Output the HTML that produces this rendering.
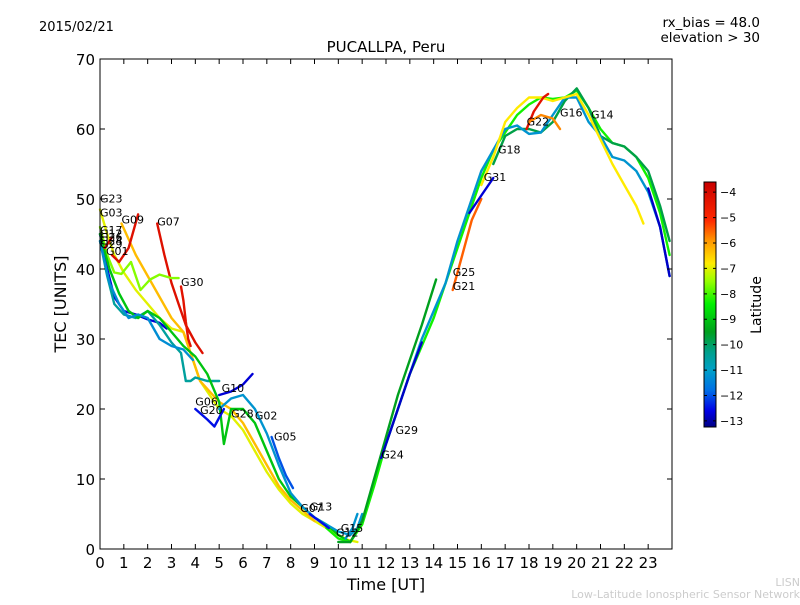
<!DOCTYPE html>
<html><head><meta charset="utf-8"><style>
body{margin:0;background:#fff;}
svg text{font-family:"DejaVu Sans","Liberation Sans",sans-serif;}
</style></head><body>
<svg id="c" width="800" height="600" xmlns="http://www.w3.org/2000/svg">
<rect width="800" height="600" fill="#fff"/>
<text x="39" y="31" font-size="13">2015/02/21</text>
<text x="760" y="27" font-size="13.5" text-anchor="end">rx_bias = 48.0</text>
<text x="760" y="42" font-size="13.5" text-anchor="end">elevation &gt; 30</text>
<text x="386" y="52" font-size="15" text-anchor="middle">PUCALLPA, Peru</text>
<g id="plot"></g>
<rect x="100" y="59" width="572" height="490" fill="none" stroke="#000" stroke-width="1"/>
<g id="axes"></g>
<text x="386" y="590" font-size="16" text-anchor="middle">Time [UT]</text>
<text transform="translate(66,304) rotate(-90)" font-size="16" text-anchor="middle">TEC [UNITS]</text>
<defs><linearGradient id="jet" x1="0" y1="1" x2="0" y2="0"></linearGradient></defs>
<rect x="704" y="182" width="12" height="245" fill="url(#jet)" stroke="#000" stroke-width="1"/>
<g id="cbar"></g>
<text transform="translate(761,305) rotate(-90)" font-size="14" text-anchor="middle">Latitude</text>
<text x="800" y="586" font-size="11" fill="#ccc" text-anchor="end">LISN</text>
<text x="800" y="598" font-size="11" fill="#ccc" text-anchor="end">Low-Latitude Ionospheric Sensor Network</text>
</svg>
<script>
const xTicks=[0,1,2,3,4,5,6,7,8,9,10,11,12,13,14,15,16,17,18,19,20,21,22,23];
const yTicks=[0,10,20,30,40,50,60,70];
const cbTicks=[-4,-5,-6,-7,-8,-9,-10,-11,-12,-13];
const names=["G03","G09b","G07","G09","G30a","B1","T1","G1","C1","G10","G20","G05","G02","D1","D2","D3","D4","G29","G21","G31","G22","G16","G24","E1","G13","G15","G30","G01"];
const lats=[-7,-6.3,-4.2,-4.2,-7.6,-12.7,-10.5,-9,-11.3,-12.7,-12.5,-12,-11.2,-8.3,-9.5,-9.8,-11.2,-6.8,-5.5,-12.7,-4.3,-5.8,-12.8,-12.8,-12.5,-11.2,-4.3,-4];
const times=[
[0,0.3,0.6,1,1.5,2,2.5,3,3.5,3.8,4.2,4.6,5,5.5,6,6.5,7,7.5,8,8.5,9,9.5,10,10.4,10.8],
[0.9,1.5,2,2.5,3,3.5,3.8,4.2,5,5.5,6,6.5,7,7.5,8,8.5,9],
[2.4,2.7,3,3.3,3.6,4,4.3],
[0.5,0.8,1.2,1.6],
[0,0.3,0.6,0.9,1.3,1.7,2.1,2.5,3,3.3],
[0,0.3,0.6,1,1.5,2,2.5,2.8],
[0,0.3,0.6,1,1.5,2,2.5,3,3.4,3.6,3.8,4,4.5,5],
[0,0.4,0.8,1.2,1.6,2,2.5,3,3.5,4,4.5,5,5.2,5.5,6,6.5,7,7.5,8,8.5,9,9.5,10,10.5],
[0,0.4,0.8,1.2,1.6,2,2.5,3,3.5,3.9],
[5,5.5,6,6.4],
[4,4.5,4.8,5.2],
[7.2,7.5,7.8,8.1],
[5,5.5,6,6.5,7,7.5,8,8.5,9,9.5,10,10.5,10.8,11],
[9.5,10,10.5,11,11.5,12,12.5,13,13.5,14,14.5,15,15.5,16,16.5,17,17.5,18,18.5,19,19.5,20,20.5,21,21.5,22,22.5,23,23.5,23.9],
[10,10.5,11,11.5,12,12.5,13,13.5,14.1],
[16.5,17,17.5,18,18.5,19,19.5,20,20.5,21,21.5,22,22.5,23,23.5,23.9],
[12,12.5,13,13.5,14,14.5,15,15.5,16,16.5,17,17.5,18,18.5,19,19.5,20,20.5,21,21.5,22,22.5,23,23.5,23.9],
[16,16.5,17,17.5,18,18.5,19,19.5,20,20.5,21,21.5,22,22.5,22.8],
[14.8,15.2,15.6,16],
[15.5,16,16.5],
[17.9,18.2,18.6,18.8],
[18,18.5,19,19.3],
[11.8,12.2,12.6,13,13.5],
[23,23.5,23.9],
[8.8,9.2,9.6],
[10.3,10.6,10.8],
[3.4,3.5,3.6,3.7,3.8],
[0.2,0.5]];
const tecs=[
[48.5,45,42,39.5,37,35,33,31.5,31,28,24,22,20,19,17,14,11,8.5,6.5,5,4,3,2,1.3,1],
[46.5,42,39,36,33,31,28,24,21,20,18,15,12,9,7,5.5,4],
[46.5,42,38,35,32,29.5,28],
[42,41,43,47.8],
[46,42,39.5,39.3,41,37,38.5,39.2,38.7,38.7],
[45,40,36,34,33.5,32.8,32.3,31.5],
[44,39,35,33.5,33,34,32,29.5,28,24,24,24.5,24,24],
[45,40,36.5,34,33,34,33,31,29,27.5,25,21,15,20,20,18,14,10,7.5,6,4.5,3.5,2,1],
[44,38,35,33,33.5,33,30,29,28.5,27],
[22,22.5,23.5,25],
[20,18.5,17.5,20],
[16,13,10.5,8.7],
[20,21.5,22,20,16.5,12,8,6,4.5,3.5,2.5,2,3,5],
[3,1.5,1,3.5,9,15,20,25,29,33,38,43,48,53,57,59.5,62,63.5,64.5,64.3,64.5,65.5,63,60,58,57.5,56,53,48,42],
[1,1,4,10,16,22,27,32,38.5],
[55,59,60,60,59.5,61,64,65.8,63,59,58,57.5,56,54,49,44],
[15,20,25,30,34,38,44,49,54,57,60,60.5,59.3,59.5,62,64.5,64.5,61,59,56,55.5,54,51,46,39],
[52,56,61,63,64.5,64.5,64,64.5,65,62,58.5,55,52,49,46.5],
[37,42,47,50],
[48,50.5,53],
[60,62.5,64.5,65],
[61,62,61.5,60],
[13,17,21,25,29.5],
[51.5,46,39],
[5,4,3],
[1.5,3,5],
[37.5,35.5,32.5,30,29],
[43,44.5]];
const labels=[["G23",0,49.5],["G03",0,47.5],["G09",0.9,46.5],["G07",2.4,46.2],["G17",0,45],["G12",0,44.5],["G26",0,44],["G24",0,43.5],["G29",0,43],["G01",0.25,42],["G30",3.4,37.6],["G10",5.1,22.4],["G06",4,20.5],["G20",4.2,19.3],["G28",5.5,18.8],["G02",6.5,18.5],["G05",7.3,15.5],["G07",8.4,5.3],["G13",8.8,5.5],["G15",10.1,2.4],["G12",9.9,1.8],["G24",11.8,12.9],["G29",12.4,16.4],["G25",14.8,39],["G21",14.8,37],["G31",16.1,52.6],["G18",16.7,56.5],["G22",17.9,60.5],["G16",19.3,61.8],["G14",20.6,61.5]];
const X=t=>100+t*572/24, Y=v=>549-v*7;
const VMIN=-13.24, VMAX=-3.6;
const CSTOPS=[[-13.24,[0,0,130]],[-12.6,[0,0,230]],[-11.8,[0,110,230]],[-11,[0,160,200]],[-10.3,[0,160,140]],[-9.5,[0,160,30]],[-8.4,[0,240,0]],[-7.5,[150,255,0]],[-6.8,[255,235,0]],[-5.9,[255,150,0]],[-5.1,[255,40,0]],[-3.6,[200,0,0]]];
function jet(l){l=Math.max(VMIN,Math.min(VMAX,l));
 for(let i=1;i<CSTOPS.length;i++){if(l<=CSTOPS[i][0]){const a=CSTOPS[i-1],b=CSTOPS[i],f=(l-a[0])/(b[0]-a[0]);
  return `rgb(${[0,1,2].map(k=>Math.round(a[1][k]+f*(b[1][k]-a[1][k]))).join(',')})`;}}
 return 'rgb(200,0,0)';}
const NS="http://www.w3.org/2000/svg";
const grad=document.getElementById('jet');
CSTOPS.forEach(s=>{const st=document.createElementNS(NS,'stop');st.setAttribute('offset',((s[0]-VMIN)/(VMAX-VMIN)).toFixed(3));st.setAttribute('stop-color',`rgb(${s[1].join(',')})`);grad.appendChild(st);});
const plot=document.getElementById('plot'),axes=document.getElementById('axes'),cb=document.getElementById('cbar');
function mk(tag,attrs,parent){const e=document.createElementNS(NS,tag);for(const k in attrs)e.setAttribute(k,attrs[k]);parent.appendChild(e);return e;}
times.forEach((ts,i)=>{
 const d=ts.map((t,j)=>(j?'L':'M')+X(t).toFixed(1)+','+Y(tecs[i][j]).toFixed(1)).join('');
 const p=mk('path',{d:d,fill:'none',stroke:jet(lats[i]),'stroke-width':2.4,'stroke-linejoin':'round','stroke-linecap':'round'},plot);
 
 
});
labels.forEach(l=>{
 const t=mk('text',{x:X(l[1]).toFixed(1),y:Y(l[2]).toFixed(1),'font-size':11},plot);t.textContent=l[0];
 
 
});
xTicks.forEach(t=>{
 const x=X(t);
 const a=mk('path',{d:`M${x},549v-5M${x},59v5`,stroke:'#000'},axes);
 
 
 const tx=mk('text',{x:x,y:568,'font-size':15,'text-anchor':'middle'},axes);tx.textContent=t;
 
 
});
yTicks.forEach(v=>{
 const y=Y(v);
 const a=mk('path',{d:`M100,${y}h5M672,${y}h-5`,stroke:'#000'},axes);
 
 
 const tx=mk('text',{x:95,y:y+6,'font-size':15,'text-anchor':'end'},axes);tx.textContent=v;
 
 
});
cbTicks.forEach(v=>{
 const y=182+(VMAX-v)/(VMAX-VMIN)*245;
 const a=mk('path',{d:`M704,${y}h3M716,${y}h-3`,stroke:'#000'},cb);
 
 
 const tx=mk('text',{x:720,y:y+4,'font-size':11},cb);tx.textContent='\u2212'+(-v);
 
 
});
</script>
</body></html>
